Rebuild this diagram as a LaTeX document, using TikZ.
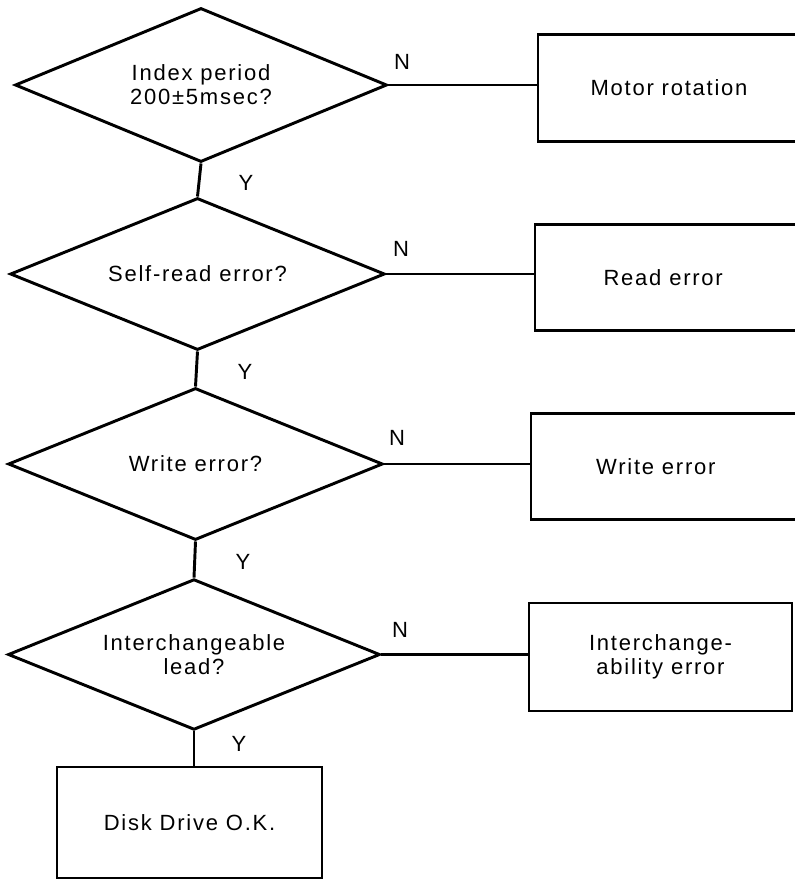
\documentclass[tikz,border=0pt]{standalone}
\usepackage{fontspec}
\setmainfont{Liberation Sans}[LetterSpace=8]
\usetikzlibrary{shapes.geometric}
\begin{document}
\begin{tikzpicture}[x=0.75pt,y=-0.75pt,
  every node/.style={font=\fontsize{16.5pt}{18pt}\selectfont},
  dec/.style={diamond, aspect=2.45, draw, line width=2.2pt, minimum width=280pt, minimum height=114pt, inner sep=0pt, align=center},
  box/.style={rectangle, draw, line width=2.2pt, align=center, minimum height=80pt, inner sep=0pt},
  conn/.style={line width=2.2pt},
  lbl/.style={inner sep=0pt}]
\fill[white, use as bounding box] (0,0) rectangle (794,882);

% decisions
\node[dec, minimum width=279pt, minimum height=115.5pt] (d1) at (201,85) {Index period\\200±5msec?};
\node[dec, minimum width=281pt, minimum height=114pt] (d2) at (197.5,274) {Self-read error?};
\node[dec, minimum width=281pt, minimum height=114pt] (d3) at (195.5,464) {Write error?};
\node[dec, minimum width=279pt, minimum height=113pt] (d4) at (194,654.5) {Interchangeable\\lead?};

% result boxes
\node[box, minimum width=204pt] (b1) at (674,88) {Motor rotation\kern7.5pt};
\node[box, minimum width=206.25pt] (b2) at (672.5,277.5) {Read error\kern14pt};
\node[box, minimum width=209.25pt] (b3) at (670.5,466.5) {Write error\kern22pt};
\node[box, minimum width=197.25pt, minimum height=81pt] (b4) at (660.5,657) {Interchange-\\ability error};
\node[box, minimum width=198.75pt, minimum height=83.25pt] (b5) at (189.5,822.5) {Disk Drive O.K.};

% connectors
\draw[conn] (d1.east) -- (d1.east -| b1.west);
\draw[conn] (d2.east) -- (d2.east -| b2.west);
\draw[conn] (d3.east) -- (d3.east -| b3.west);
\draw[conn] (d4.east) -- (d4.east -| b4.west);
\draw[conn] (d1.south) -- (d2.north);
\draw[conn] (d2.south) -- (d3.north);
\draw[conn] (d3.south) -- (d4.north);
\draw[conn] (d4.south) -- (d4.south |- b5.north);

% labels
\node[lbl] (n1) at (402,62) {N};
\node[lbl] (n2) at (401,249) {N};
\node[lbl] (n3) at (397,438) {N};
\node[lbl] (n4) at (400,630) {N};
\node[lbl] (y1) at (246,183) {Y};
\node[lbl] (y2) at (245,372) {Y};
\node[lbl] (y3) at (243,562) {Y};
\node[lbl] (y4) at (239,744) {Y};
\end{tikzpicture}
\end{document}
